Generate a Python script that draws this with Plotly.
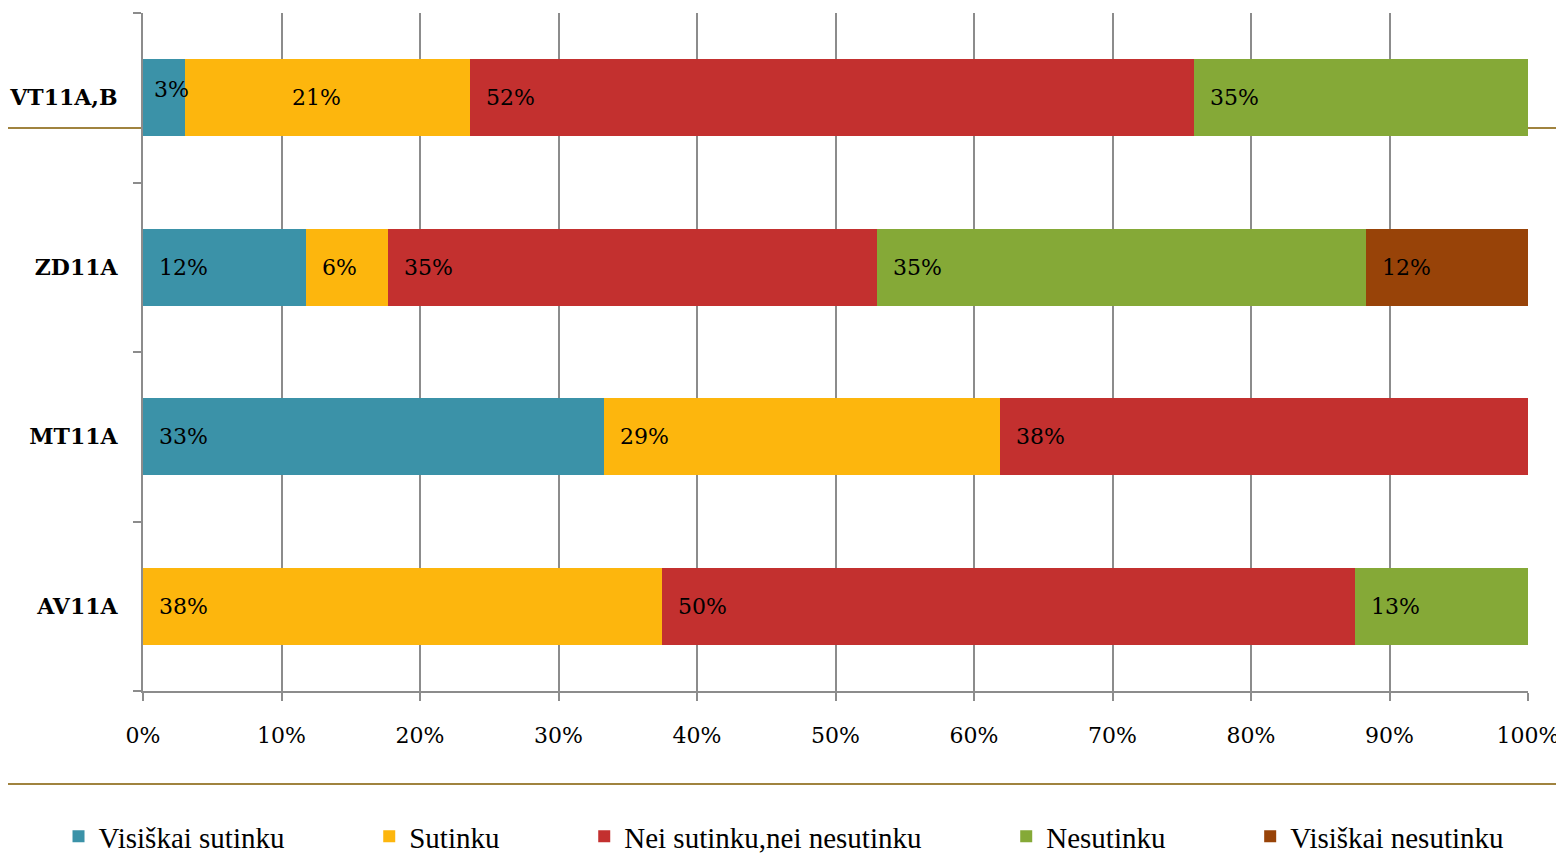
import plotly.graph_objects as go

categories = ["AV11A", "MT11A", "ZD11A", "VT11A,B"]
series_names = ["Visiškai sutinku", "Sutinku", "Nei sutinku,nei nesutinku", "Nesutinku", "Visiškai nesutinku"]
colors = ["#3B92A8", "#FDB60D", "#C3302F", "#85A937", "#984308"]

# shares (%) per category, in order of categories
visiskai_sutinku = [0, 33.3, 11.8, 3.0]
sutinku = [37.5, 28.6, 5.9, 20.6]
nei_nei = [50.0, 38.1, 35.3, 52.3]
nesutinku = [12.5, 0, 35.3, 24.1]
visiskai_nesutinku = [0, 0, 11.8, 0]

# data-label texts as printed on the chart
labels_vs = ["", "33%", "12%", "3%"]
labels_s = ["38%", "29%", "6%", "21%"]
labels_nn = ["50%", "38%", "35%", "52%"]
labels_n = ["13%", "", "35%", "35%"]
labels_vn = ["", "", "12%", ""]

x_ticks = [0, 10, 20, 30, 40, 50, 60, 70, 80, 90, 100]
x_tick_labels = [f"{t}%" for t in x_ticks]

series_values = [visiskai_sutinku, sutinku, nei_nei, nesutinku, visiskai_nesutinku]
series_labels = [labels_vs, labels_s, labels_nn, labels_n, labels_vn]

SERIF = "Liberation Serif, DejaVu Serif, serif"
GEORGIA = "DejaVu Serif, serif"
NBSP = "\u00a0"
LEGEND_PAD = NBSP * 11

fig = go.Figure()
for i, (name, vals, col) in enumerate(zip(series_names, series_values, colors)):
    pad = LEGEND_PAD if i < len(series_names) - 1 else ""
    fig.add_trace(go.Bar(
        y=categories, x=vals, name=name + pad, orientation="h",
        marker=dict(color=col, line=dict(width=0)),
        hoverinfo="skip",
    ))

# data labels at the left of each segment (a couple nudged as in the original)
label_nudge = {("VT11A,B", 0): (-5, 8), ("VT11A,B", 1): (91, 0)}
annotations = []
for ci, cat in enumerate(categories):
    start = 0.0
    for si, (vals, labs) in enumerate(zip(series_values, series_labels)):
        v = vals[ci]
        if labs[ci]:
            dx, dy = label_nudge.get((cat, si), (0, 0))
            annotations.append(dict(
                x=start, y=cat, xref="x", yref="y", text=labs[ci],
                showarrow=False, xanchor="left", yanchor="middle",
                xshift=14 + dx, yshift=dy,
                font=dict(family=GEORGIA, size=22, color="#000000"),
            ))
        start += v

shapes = [
    dict(type="line", xref="paper", yref="paper", x0=-0.11, x1=1.03,
         y0=0.8304, y1=0.8304, line=dict(color="#A0833F", width=2), layer="below"),
    dict(type="line", xref="paper", yref="paper", x0=-0.11, x1=1.03,
         y0=-0.137, y1=-0.137, line=dict(color="#A0833F", width=2), layer="below"),
]

fig.update_layout(
    barmode="stack",
    bargap=0.546,
    width=1556, height=859,
    margin=dict(l=135, r=36, t=5, b=176),
    paper_bgcolor="white", plot_bgcolor="rgba(0,0,0,0)",
    showlegend=True,
    legend=dict(orientation="h", x=-0.061, xanchor="left",
                y=-0.252, yanchor="bottom",
                font=dict(family=SERIF, size=29, color="#000000"),
                itemwidth=30, traceorder="normal", bgcolor="rgba(0,0,0,0)"),
    annotations=annotations,
    shapes=shapes,
    xaxis=dict(range=[0, 100], tickvals=x_ticks, ticktext=x_tick_labels,
               showgrid=True, gridcolor="#8C8C8C", gridwidth=2,
               ticks="outside", ticklen=8, tickcolor="#8C8C8C", tickwidth=2,
               showline=True, linecolor="#8C8C8C", linewidth=2,
               tickfont=dict(family=GEORGIA, size=22, color="#000000"),
               ticklabelstandoff=16, automargin=False,
               zeroline=False, fixedrange=True),
    yaxis=dict(categoryorder="array", categoryarray=categories,
               tickson="boundaries", ticks="outside", ticklen=8, tickcolor="#8C8C8C", tickwidth=2,
               showline=True, linecolor="#8C8C8C", linewidth=2, showgrid=False,
               tickfont=dict(family=GEORGIA, size=22, color="#000000", weight="bold"),
               ticklabelstandoff=19, automargin=False, fixedrange=True),
)

fig.write_html("out.html")
